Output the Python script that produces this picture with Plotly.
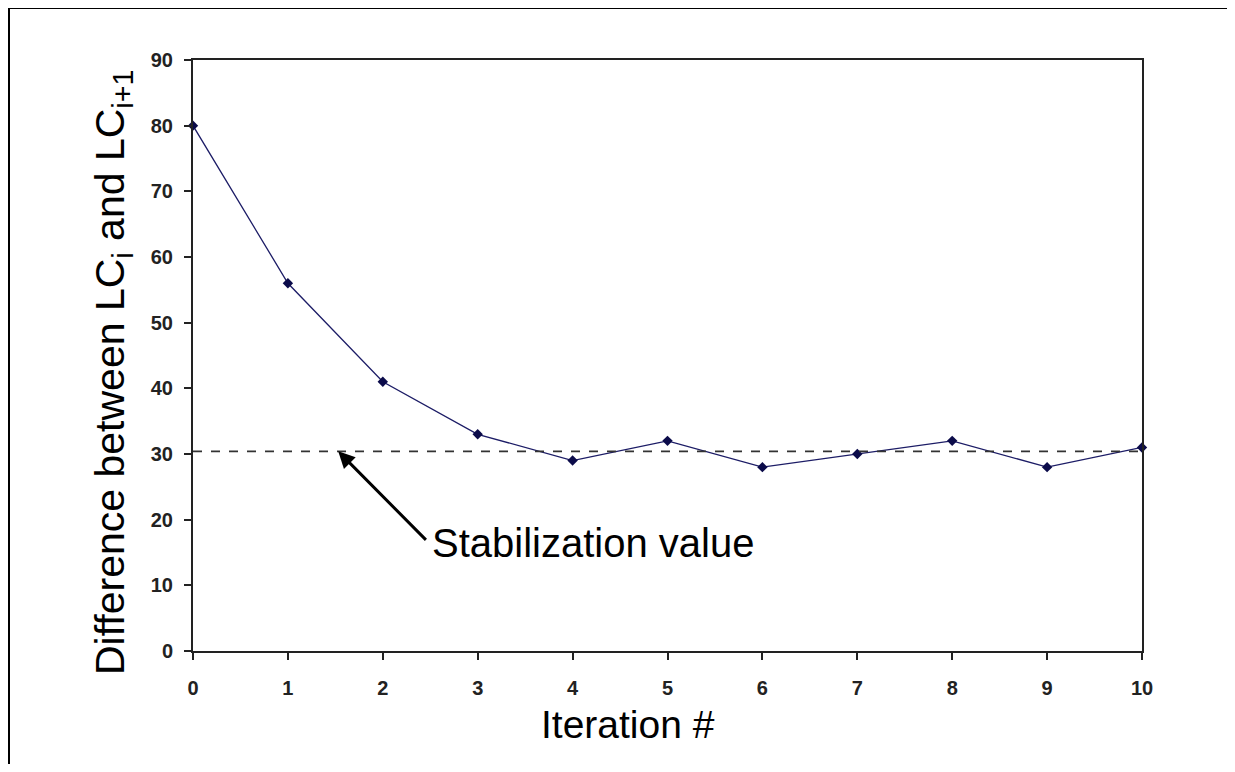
import plotly.graph_objects as go

iterations = [0, 1, 2, 3, 4, 5, 6, 7, 8, 9, 10]
differences = [80, 56, 41, 33, 29, 32, 28, 30, 32, 28, 31]
stabilization_value = 30.4
x_ticks = [0, 1, 2, 3, 4, 5, 6, 7, 8, 9, 10]
y_ticks = [0, 10, 20, 30, 40, 50, 60, 70, 80, 90]

FONT = "Liberation Sans, Arial, sans-serif"

# page-pixel geometry (the figure div sits at 8px,8px inside the page)
OFF = 8
PL, PR, PT, PB = 193, 1142, 60, 651
W, H = 1235 - 2 * OFF, 772 - 2 * OFF


def px_x(p):
    return (p - PL) / (PR - PL)


def px_y(p):
    return (PB - p) / (PB - PT)


fig = go.Figure()
fig.add_trace(go.Scatter(
    x=iterations, y=differences, mode="lines+markers",
    line=dict(color="#1c1c66", width=1.3),
    marker=dict(symbol="diamond", size=8, color="#0b0b4a"),
    showlegend=False, cliponaxis=False,
))

# stabilization dashed line
fig.add_shape(type="line", xref="x", yref="y", x0=0, x1=10,
              y0=stabilization_value, y1=stabilization_value,
              line=dict(color="#333333", width=1.6, dash="dash"))

# outer frame: only top and left edges are visible in the picture
fig.add_shape(type="line", xref="paper", yref="paper",
              x0=px_x(7), x1=px_x(OFF + W), y0=px_y(7.5), y1=px_y(7.5),
              line=dict(color="black", width=3), layer="above")
fig.add_shape(type="line", xref="paper", yref="paper",
              x0=px_x(8.5), x1=px_x(8.5), y0=px_y(6), y1=px_y(OFF + H),
              line=dict(color="black", width=3), layer="above")

# arrow
fig.add_annotation(x=1.53, y=stabilization_value, ax=2.47, ay=16.7,
                   xref="x", yref="y", axref="x", ayref="y",
                   showarrow=True, arrowhead=2, arrowsize=1.1, arrowwidth=3,
                   arrowcolor="black", text="")
fig.add_annotation(x=px_x(430), y=px_y(543), xref="paper", yref="paper",
                   text="Stabilization value",
                   showarrow=False, xanchor="left", yanchor="middle",
                   font=dict(family=FONT, size=40, color="black"))

# axis titles
fig.add_annotation(x=px_x(628), y=px_y(724), xref="paper", yref="paper",
                   text="Iteration #", showarrow=False,
                   xanchor="center", yanchor="middle",
                   font=dict(family=FONT, size=39, color="black"))
fig.add_annotation(x=px_x(113), y=px_y(373), xref="paper", yref="paper",
                   text="Difference between LC<sub>i</sub> and LC<sub>i+1</sub>",
                   textangle=-90, showarrow=False, xanchor="center", yanchor="middle",
                   font=dict(family=FONT, size=41, color="black"))

axis_common = dict(showgrid=False, zeroline=False, showline=True, linecolor="#222222",
                   linewidth=2, mirror=True, ticks="outside", ticklen=7, tickwidth=2,
                   tickcolor="#222222",
                   tickfont=dict(family=FONT, size=20, color="#222222", weight="bold"))

fig.update_xaxes(range=[0, 10], tickmode="array", tickvals=x_ticks,
                 ticklabelstandoff=11, **axis_common)
fig.update_yaxes(range=[0, 90], tickmode="array", tickvals=y_ticks,
                 ticklabelstandoff=7, **axis_common)

fig.update_layout(width=W, height=H, autosize=False,
                  margin=dict(l=PL - OFF, r=OFF + W - PR, t=PT - OFF, b=OFF + H - PB,
                              autoexpand=False),
                  paper_bgcolor="white", plot_bgcolor="white",
                  font=dict(family=FONT))

fig.write_html("out.html")
